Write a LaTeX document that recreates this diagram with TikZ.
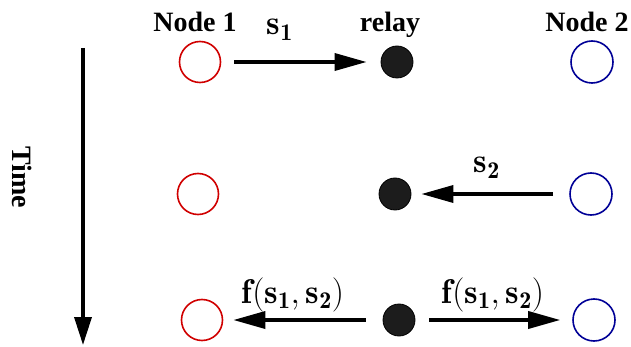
\RequirePackage{fix-cm}
\documentclass[tikz,border=0pt]{standalone}
\usepackage{fontspec}
\newfontfamily\tnr{Liberation Serif}
\usetikzlibrary{arrows.meta}
\definecolor{nred}{RGB}{208,0,0}
\definecolor{nblue}{RGB}{0,0,150}
\definecolor{relayfill}{RGB}{28,28,28}
\tikzset{
  redn/.style={circle,draw=nred,line width=1.6pt,minimum size=41pt,inner sep=0pt},
  bluen/.style={circle,draw=nblue,line width=1.6pt,minimum size=42pt,inner sep=0pt},
  relayn/.style={circle,draw=black,fill=relayfill,line width=0.8pt,minimum size=32pt,inner sep=0pt},
  title/.style={font=\tnr\bfseries\fontsize{28}{32}\selectfont,inner sep=0pt,anchor=base},
  mlab/.style={font=\fontsize{26}{30}\selectfont,inner sep=0pt,anchor=base},
  msg/.style={line width=3.5pt,-{Triangle[length=32pt,width=17pt]}},
}
\newcommand{\mylabel}[1]{\scalebox{1.32}{$\mathbf{#1}$}}
\begin{document}
\begin{tikzpicture}[x=1pt,y=-1pt]
\useasboundingbox (0,0) rectangle (631,347);
% titles
\node[title] (t1) at (195,32) {Node 1};
\node[title] (tr) at (390,32) {relay};
\node[title] (t2) at (587,32) {Node 2};
\node[font=\tnr\bfseries\fontsize{28}{32}\selectfont,rotate=-90,inner sep=0pt] (time) at (22,177) {Time};
% nodes
\node[redn] (a1) at (200,62) {};
\node[relayn] (r1) at (397,62) {};
\node[bluen] (b1) at (592,62) {};
\node[redn] (a2) at (198,194) {};
\node[relayn] (r2) at (395,194) {};
\node[bluen] (b2) at (591,194) {};
\node[redn] (a3) at (202,320) {};
\node[relayn] (r3) at (399,320) {};
\node[bluen] (b3) at (594,320) {};
% time axis
\coordinate (ts) at (83,48);
\coordinate (te) at (83,345);
\draw[line width=3.5pt,-{Triangle[length=28pt,width=17pt]}] (ts) -- (te);
% messages
\draw[msg,shorten <=13pt,shorten >=14pt] (a1) -- (r1);
\draw[msg,shorten <=16pt,shorten >=10pt] (b2) -- (r2);
\draw[msg,shorten <=17pt,shorten >=10pt] (r3) -- (a3);
\draw[msg,shorten <=14pt,shorten >=12pt] (r3) -- (b3);
% labels
\node[mlab] (l1) at (280,35) {\mylabel{s_1}};
\node[mlab] (l2) at (487,173) {\mylabel{s_2}};
\node[mlab] (l3) at (293,303) {\mylabel{f(s_1,s_2)}};
\node[mlab] (l4) at (493,303) {\mylabel{f(s_1,s_2)}};
\end{tikzpicture}
\end{document}
